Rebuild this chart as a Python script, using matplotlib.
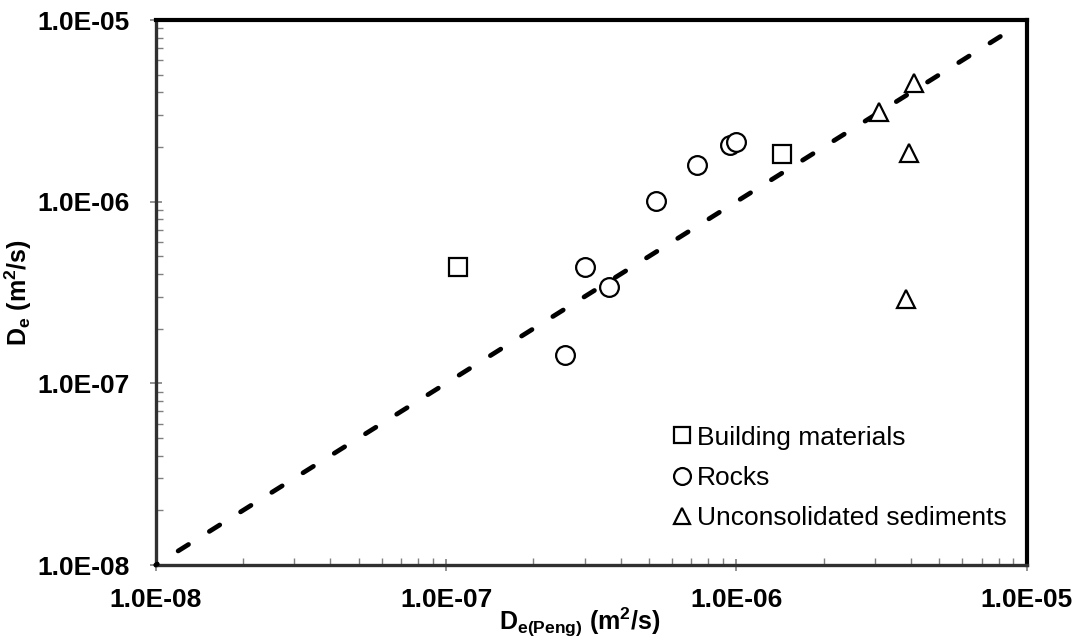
import numpy as np
import matplotlib
matplotlib.use("Agg")
import matplotlib.pyplot as plt
from matplotlib.ticker import LogLocator, NullFormatter, FixedLocator

plt.rcParams['font.family'] = ['Liberation Sans', 'DejaVu Sans']
plt.rcParams['mathtext.fontset'] = 'custom'
plt.rcParams['mathtext.rm'] = 'Liberation Sans'
plt.rcParams['mathtext.bf'] = 'Liberation Sans:bold'
plt.rcParams['mathtext.it'] = 'Liberation Sans:italic'

# Effective diffusion coefficients: Peng model (x) vs measured (y), m2/s
building_x = [1.10e-7, 1.44e-6]
building_y = [4.39e-7, 1.83e-6]

rocks_x = [3.00e-7, 3.64e-7, 5.29e-7, 7.34e-7, 9.51e-7, 9.98e-7, 2.57e-7]
rocks_y = [4.39e-7, 3.38e-7, 1.01e-6, 1.59e-6, 2.05e-6, 2.12e-6, 1.43e-7]

sediment_x = [4.09e-6, 3.10e-6, 3.93e-6, 3.83e-6]
sediment_y = [4.49e-6, 3.12e-6, 1.86e-6, 2.90e-7]

tick_values = [1e-8, 1e-7, 1e-6, 1e-5]
tick_labels = ["1.0E-08", "1.0E-07", "1.0E-06", "1.0E-05"]

fig = plt.figure(figsize=(10.82, 6.39), dpi=100)
ax = fig.add_axes([0.1439, 0.1158, 0.9489 - 0.1439, 0.9687 - 0.1158])

# 1:1 line
line_x = [1e-8, 9e-6]
ax.plot(line_x, line_x, color='black', lw=3.4, linestyle=(2.2, (2.6, 5.2)),
        dash_capstyle='round', zorder=3, clip_on=False)

mk = dict(linestyle='none', markersize=13.5, markerfacecolor='white',
          markeredgecolor='black', markeredgewidth=1.6, zorder=4)
ax.plot(building_x, building_y, marker='s', label='Building materials', **mk)
ax.plot(rocks_x, rocks_y, marker='o', label='Rocks', **mk)
ax.plot(sediment_x, sediment_y, marker='^', label='Unconsolidated sediments', **mk)

ax.set_xscale('log')
ax.set_yscale('log')
ax.set_xlim(1e-8, 1e-5)
ax.set_ylim(1e-8, 1e-5)

for a in (ax.xaxis, ax.yaxis):
    a.set_major_locator(FixedLocator(tick_values))
    a.set_minor_locator(LogLocator(base=10, subs=np.arange(2, 10)))
    a.set_minor_formatter(NullFormatter())
ax.set_xticklabels(tick_labels)
ax.set_yticklabels(tick_labels)

ax.tick_params(which='major', direction='inout', length=9, width=1.2,
               color='#808080', labelsize=19)
ax.tick_params(which='minor', direction='in', length=5, width=1.0,
               color='#808080')
for lab in ax.get_xticklabels() + ax.get_yticklabels():
    lab.set_fontweight('bold')
ax.tick_params(axis='x', pad=12)
ax.tick_params(axis='y', pad=14)

for side in ('top', 'right'):
    ax.spines[side].set_color('black')
    ax.spines[side].set_linewidth(3)
for side in ('left', 'bottom'):
    ax.spines[side].set_color('#303030')
    ax.spines[side].set_linewidth(2.4)

ax.set_xlabel(r'$\mathbf{D_{e(Peng)}}$ $\mathbf{(m^{2}/s)}$', fontsize=18)
ax.xaxis.set_label_coords(0.487, -0.075)
ax.set_ylabel(r'$\mathbf{D_{e}}$ $\mathbf{(m^{2}/s)}$', fontsize=18)
ax.yaxis.set_label_coords(-0.140, 0.5)

leg = ax.legend(loc='upper left', bbox_to_anchor=(0.580, 0.275), frameon=False,
                fontsize=19, handlelength=0.8, handletextpad=0.15,
                labelspacing=0.62, borderaxespad=0, markerscale=0.9)

fig.savefig('out.png', dpi=100)
